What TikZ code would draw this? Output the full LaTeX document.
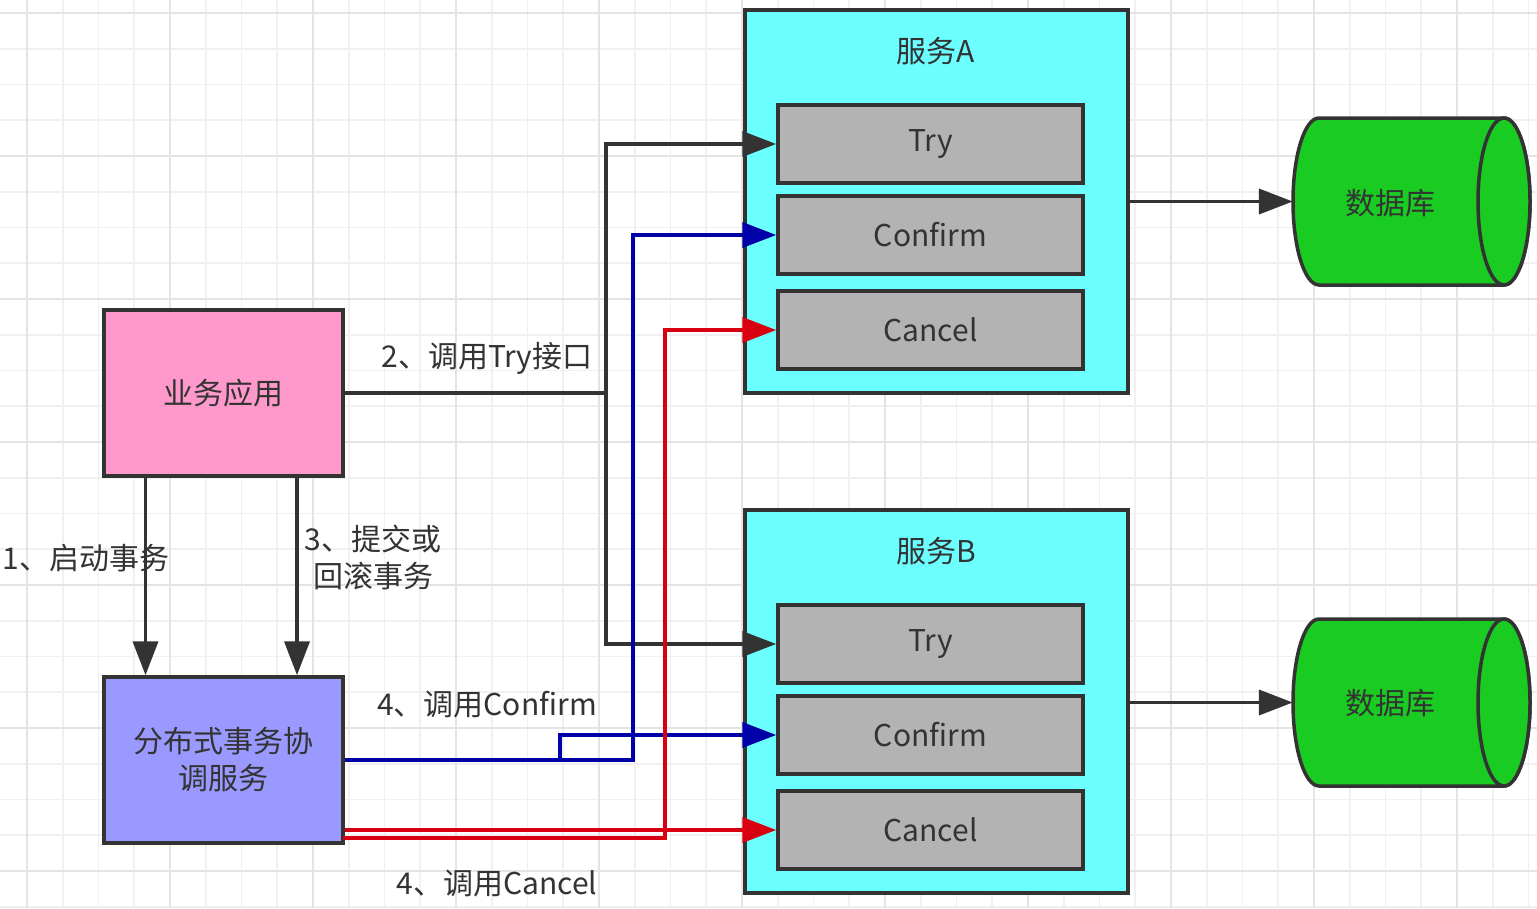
\documentclass[tikz,border=0pt]{standalone}
\usepackage{fontspec}
\newfontfamily\cjk{Noto Sans CJK SC}
\usetikzlibrary{arrows.meta}
\definecolor{ink}{HTML}{333333}
\definecolor{gridminor}{HTML}{F0F0F0}
\definecolor{gridmajor}{HTML}{E4E4E4}
\definecolor{apppink}{HTML}{FF99CC}
\definecolor{coordblue}{HTML}{9999FF}
\definecolor{svccyan}{HTML}{6CFFFF}
\definecolor{opgray}{HTML}{B3B3B3}
\definecolor{dbgreen}{RGB}{26,204,34}
\definecolor{callblue}{HTML}{0000A8}
\definecolor{callred}{HTML}{D80010}
\tikzset{
  txt/.style={font=\cjk\fontsize{30}{37}\selectfont, text=ink},
  box/.style={txt, draw=ink, line width=3.5pt, inner sep=0pt, align=center},
  appbox/.style={box, minimum width=239pt, minimum height=166pt},
  svcbox/.style={box, fill=svccyan, minimum width=383pt, minimum height=383pt},
  opbox/.style={box, fill=opgray, minimum width=305pt, minimum height=78pt},
  dbarea/.style={minimum width=237pt, minimum height=167pt, inner sep=0pt},
  dbline/.style={draw=ink, fill=dbgreen, line width=3.5pt},
  lbl/.style={txt, inner sep=0pt, align=center},
  tip/.style={-{Triangle[length=34pt,width=25pt]}},
  con/.style={draw=ink, line width=3.8pt, tip},
  bluecon/.style={draw=callblue, line width=3.8pt, tip},
  redcon/.style={draw=callred, line width=3.8pt, tip},
}
\newcommand\dbcyl[1]{%
  \filldraw[dbline] (1319,#1-83.5) -- (1504,#1-83.5)
    arc[start angle=-90, end angle=90, x radius=26, y radius=83.5]
    -- (1319,#1+83.5)
    arc[start angle=90, end angle=270, x radius=26, y radius=83.5] -- cycle;
  \draw[dbline] (1504,#1) ellipse[x radius=26, y radius=83.5];
}
\begin{document}
\begin{tikzpicture}[x=1pt,y=-1pt]
\fill[white] (0,0) rectangle (1537,908);
\useasboundingbox (0,0) rectangle (1537,908);
% grid
\foreach \k in {0,...,42}{\draw[gridminor, line width=1.6pt] ({27+35.75*\k},0) -- ({27+35.75*\k},908);}
\foreach \k in {0,...,25}{\draw[gridminor, line width=1.6pt] (0,{13+35.75*\k}) -- (1537,{13+35.75*\k});}
\foreach \k in {0,4,...,40}{\draw[gridmajor, line width=1.8pt] ({27+35.75*\k},0) -- ({27+35.75*\k},908);}
\foreach \k in {0,4,...,24}{\draw[gridmajor, line width=1.8pt] (0,{13+35.75*\k}) -- (1537,{13+35.75*\k});}

% left boxes
\node[appbox, fill=apppink] (app) at (223.5,393) {业务应用};
\node[appbox, fill=coordblue] (coord) at (223.5,760) {分布式事务协\\调服务};

% service A
\node[svcbox] (svcA) at (936.5,201.5) {};
\node[lbl] (titleA) at (936,51) {服务A};
\node[opbox] (tryA) at (930.5,144) {Try};
\node[opbox] (confA) at (930.5,235) {Confirm};
\node[opbox] (cancA) at (930.5,330) {Cancel};

% service B
\node[svcbox] (svcB) at (936.5,701.5) {};
\node[lbl] (titleB) at (936,551) {服务B};
\node[opbox] (tryB) at (930.5,644) {Try};
\node[opbox] (confB) at (930.5,735) {Confirm};
\node[opbox] (cancB) at (930.5,830) {Cancel};

% databases
\dbcyl{201.5}
\dbcyl{702.5}
\node[dbarea] (dbA) at (1411.5,201.5) {};
\node[dbarea] (dbB) at (1411.5,702.5) {};
\node[lbl] (dbAl) at (1390,203) {数据库};
\node[lbl] (dbBl) at (1390,703) {数据库};
\draw[con] (svcA.east |- dbA.west) -- (dbA.west);
\draw[con] (svcB.east |- dbB.west) -- (dbB.west);

% 1 and 3
\draw[con] ([xshift=-78pt]app.south) -- ([xshift=-78pt]coord.north);
\draw[con] ([xshift=73.5pt]app.south) -- ([xshift=73.5pt]coord.north);
\node[lbl] (l1) at (86,558) {1、启动事务};
\node[lbl] (l3) at (373,558) {3、提交或\\回滚事务};

% 2 try
\coordinate (tj) at (606,393);
\draw[draw=ink, line width=3.8pt] (app.east) -- (tj);
\draw[con] (tj) |- (tryA.west);
\draw[con] (tj) |- (tryB.west);
\node[lbl] (l2) at (487,358) {2、调用Try接口};

% 4 confirm
\coordinate (bj1) at (560,760);
\coordinate (bj2) at (633,760);
\draw[bluecon] (coord.east) -- (bj2) |- (confA.west);
\draw[bluecon] (bj1) |- (confB.west);
\node[lbl] (l4a) at (487,704) {4、调用Confirm};

% 4 cancel
\coordinate (rs1) at (coord.east |- cancB.west);
\coordinate (rs2) at (343,838);
\coordinate (rj) at (665,838);
\draw[redcon] (rs1) -- (cancB.west);
\draw[redcon] (rs2) -- (rj) |- (cancA.west);
\node[lbl] (l4b) at (497,883) {4、调用Cancel};
\end{tikzpicture}
\end{document}
